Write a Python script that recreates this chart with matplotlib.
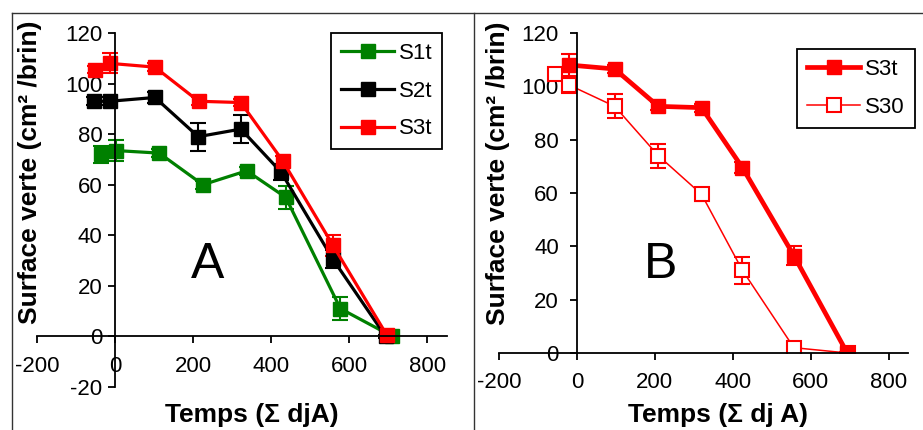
import matplotlib.pyplot as plt
from matplotlib.lines import Line2D

plt.rcParams['font.family'] = ['Liberation Sans', 'DejaVu Sans']
plt.rcParams['axes.unicode_minus'] = False

# panel A
a_s1_x = [-37, 3, 113, 225, 337, 437, 577, 710]
a_s1_y = [72, 73.5, 72.5, 60, 65.5, 55, 11, 0]
a_s1_err = [3.5, 4, 1.5, 1.5, 1.5, 4.5, 4.5, 0.5]

a_s2_x = [-54, -14, 102, 213, 322, 425, 558, 693]
a_s2_y = [93, 93, 94.5, 79, 82, 65, 30.5, 0]
a_s2_err = [1.5, 1.5, 2, 5.5, 5.5, 3, 3.5, 0.5]

a_s3_x = [-52, -14, 102, 214, 322, 429, 558, 696]
a_s3_y = [105.5, 108, 106.5, 93, 92.5, 69.5, 36, 0.5]
a_s3_err = [1.5, 4, 1.5, 1.5, 1.5, 2, 4, 0.5]

# panel B
b_s3_x = [-20, 97, 209, 320, 425, 557, 694]
b_s3_y = [108, 106.5, 92.5, 92, 69.5, 36.5, 0]
b_s3_err = [4, 1.5, 1.5, 1.5, 2, 3.5, 0.5]

b_s30_x = [-56, -20, 97, 209, 320, 425, 557, 695]
b_s30_y = [104.5, 100.5, 92.5, 74, 59.5, 31, 2, 0]
b_s30_err = [1.5, 3, 4.5, 4.5, 2.5, 5, 0.5, 0.5]

x_ticks = [-200, 0, 200, 400, 600, 800]

GREEN = '#008000'
RED = '#ff0000'

fig = plt.figure(figsize=(9.23, 4.3), dpi=100)
axA = fig.add_axes([37 / 923, 1 - 387 / 430, 410 / 923, 354 / 430])
axB = fig.add_axes([499 / 923, 1 - 353 / 430, 409 / 923, 320 / 430])


def style_axes(ax, ylo, yticks):
    ax.set_xlim(-200, 850)
    ax.set_ylim(ylo, 120)
    ax.set_xticks(x_ticks)
    ax.set_yticks(yticks)
    for s in ['top', 'right']:
        ax.spines[s].set_visible(False)
    ax.spines['left'].set_position(('data', 0))
    ax.spines['bottom'].set_position(('data', 0))
    for s in ['left', 'bottom']:
        ax.spines[s].set_linewidth(1.3)
    ax.tick_params(axis='both', direction='out', length=5, width=1.3,
                   labelsize=16)
    ax.tick_params(axis='x', pad=9)
    ax.patch.set_alpha(0)


style_axes(axA, -20, list(range(-20, 121, 20)))
style_axes(axB, 0, list(range(0, 121, 20)))
axA.tick_params(axis='y', pad=4)
axB.tick_params(axis='y', pad=8)

eb = dict(capsize=6, elinewidth=1.5, capthick=1.5, markersize=9.5)
c1 = axA.errorbar(a_s1_x, a_s1_y, yerr=a_s1_err, fmt='-s', color=GREEN,
                  lw=2.3, **eb)
c2 = axA.errorbar(a_s2_x, a_s2_y, yerr=a_s2_err, fmt='-s', color='black',
                  lw=2.3, **eb)
c3 = axA.errorbar(a_s3_x, a_s3_y, yerr=a_s3_err, fmt='-s', color=RED,
                  lw=2.3, **eb)

d30 = axB.errorbar(b_s30_x, b_s30_y, yerr=b_s30_err, fmt='-s', color=RED,
                   lw=1.1, mfc='white', mew=1.5, **eb)
d3 = axB.errorbar(b_s3_x, b_s3_y, yerr=b_s3_err, fmt='-s', color=RED,
                  lw=3.4, **eb)

for ax, loc, handles, labels in [
        (axA, (0.717, 1.0), [c1[0], c2[0], c3[0]], ['S1t', 'S2t', 'S3t']),
        (axB, (0.729, 0.95), [d3[0], d30[0]], ['S3t', 'S30'])]:
    leg = ax.legend(handles, labels,
                    loc='upper left', bbox_to_anchor=loc, fontsize=16,
                    fancybox=False, framealpha=1, edgecolor='black',
                    handlelength=2.4, handletextpad=0.2, labelspacing=0.75,
                    borderpad=0.45, borderaxespad=0)
    leg.get_frame().set_linewidth(1.3)

axA.set_ylabel('Surface verte (cm² /brin)', fontsize=19, fontweight='bold')
axA.yaxis.set_label_coords(0.012, 0.607)
axA.set_xlabel('Temps (Σ djA)', fontsize=19, fontweight='bold', va='top')
axA.xaxis.set_label_coords(0.524, -0.045)

axB.set_ylabel('Surface verte (cm² /brin)', fontsize=19, fontweight='bold')
axB.yaxis.set_label_coords(0.027, 0.5625)
axB.set_xlabel('Temps (Σ dj A)', fontsize=19, fontweight='bold', va='top')
axB.xaxis.set_label_coords(0.535, -0.156)

axA.text(0.415, 0.345, 'A', transform=axA.transAxes, fontsize=36,
         ha='center', va='center')
axB.text(0.394, 0.275, 'B', transform=axB.transAxes, fontsize=36,
         ha='center', va='center')

# frame lines around the two panels
top = 1 - 13 / 430
for xs, ys in [([12 / 923, 1], [top, top]),
               ([12 / 923, 12 / 923], [0, top]),
               ([474 / 923, 474 / 923], [0, top])]:
    fig.add_artist(Line2D(xs, ys, color='#333333', lw=1.0))

fig.savefig('out.png', dpi=100)
